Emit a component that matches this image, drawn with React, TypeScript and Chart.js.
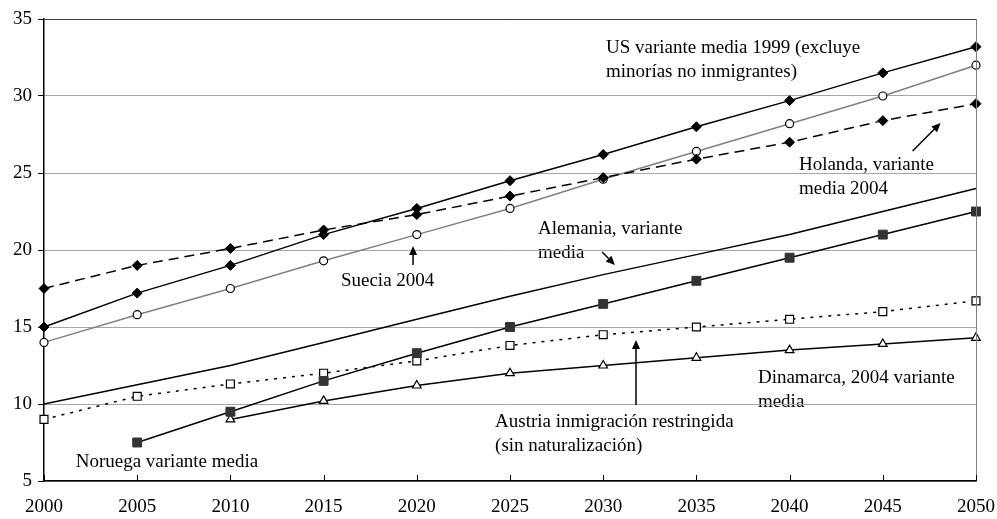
import React, { useEffect, useRef } from 'react';
import { Chart, registerables } from 'chart.js';

Chart.register(...registerables);

const years = ['2000', '2005', '2010', '2015', '2020', '2025', '2030', '2035', '2040', '2045', '2050'];
const usValues = [15, 17.2, 19, 21, 22.7, 24.5, 26.2, 28, 29.7, 31.5, 33.2];
const holandaValues = [17.5, 19, 20.1, 21.3, 22.3, 23.5, 24.7, 25.9, 27, 28.4, 29.5];
const sueciaValues = [14, 15.8, 17.5, 19.3, 21, 22.7, 24.6, 26.4, 28.2, 30, 32];
const alemaniaValues = [10, 11.25, 12.5, 14, 15.5, 17, 18.4, 19.7, 21, 22.5, 24];
const noruegaValues = [null, 7.5, 9.5, 11.5, 13.3, 15, 16.5, 18, 19.5, 21, 22.5];
const austriaValues = [9, 10.5, 11.3, 12, 12.8, 13.8, 14.5, 15, 15.5, 16, 16.7];
const dinamarcaValues = [null, null, 9, 10.2, 11.2, 12, 12.5, 13, 13.5, 13.9, 14.3];

const yMin = 5;
const yMax = 35;
const yStep = 5;

// Annotation texts, anchored in data space (year, value of first line centre)
const annotations = [
  { lines: ['US variante media 1999 (excluye', 'minorías no inmigrantes)'], year: 2030.15, value: 33.1 },
  { lines: ['Holanda, variante', 'media 2004'], year: 2040.5, value: 25.5 },
  { lines: ['Alemania, variante', 'media'], year: 2026.5, value: 21.36 },
  { lines: ['Suecia 2004'], year: 2015.93, value: 18.0 },
  { lines: ['Austria inmigración restringida', '(sin naturalización)'], year: 2024.2, value: 8.83 },
  { lines: ['Dinamarca, 2004 variante', 'media'], year: 2038.3, value: 11.69 },
  { lines: ['Noruega variante media'], year: 2001.7, value: 6.23 },
];

// Arrows: from (year, value) tail to tip
const arrows = [
  { from: [2046.6, 26.43], to: [2048.1, 28.25] },
  { from: [2029.94, 19.87], to: [2030.63, 19.03] },
  { from: [2019.8, 19.03], to: [2019.8, 20.26] },
  { from: [2031.76, 9.94], to: [2031.76, 14.16] },
];

const FONT = '"Liberation Serif", "Times New Roman", serif';
const FONT_SIZE = 19;
const LINE_GAP = 24;

const overlayPlugin = {
  id: 'overlay',
  beforeDraw(chart: any) {
    const { ctx } = chart;
    const xs = chart.scales.x;
    const ys = chart.scales.y;
    if (!xs || !ys) return;
    ctx.save();
    ctx.fillStyle = '#000';
    ctx.font = `${FONT_SIZE}px ${FONT}`;
    ctx.textBaseline = 'middle';
    ctx.textAlign = 'left';
    annotations.forEach((a) => {
      const px = xs.getPixelForValue((a.year - 2000) / 5);
      const py = ys.getPixelForValue(a.value);
      a.lines.forEach((t, i) => ctx.fillText(t, px, py + i * LINE_GAP));
    });
    ctx.restore();
  },
  afterDatasetsDraw(chart: any) {
    const { ctx, chartArea } = chart;
    const xs = chart.scales.x;
    const ys = chart.scales.y;
    ctx.save();
    // right border
    ctx.strokeStyle = '#808080';
    ctx.lineWidth = 1;
    ctx.beginPath();
    ctx.moveTo(Math.round(chartArea.right) + 0.5, chartArea.top);
    ctx.lineTo(Math.round(chartArea.right) + 0.5, chartArea.bottom);
    ctx.stroke();
    // x tick marks (inside)
    ctx.strokeStyle = '#000';
    years.forEach((_, i) => {
      const px = Math.round(xs.getPixelForValue(i)) + 0.5;
      ctx.beginPath();
      ctx.moveTo(px, chartArea.bottom);
      ctx.lineTo(px, chartArea.bottom - 6);
      ctx.stroke();
    });
    // arrows
    ctx.fillStyle = '#000';
    ctx.lineWidth = 1.5;
    arrows.forEach((a) => {
      const x1 = xs.getPixelForValue((a.from[0] - 2000) / 5);
      const y1 = ys.getPixelForValue(a.from[1]);
      const x2 = xs.getPixelForValue((a.to[0] - 2000) / 5);
      const y2 = ys.getPixelForValue(a.to[1]);
      const ang = Math.atan2(y2 - y1, x2 - x1);
      const hl = 9;
      const hw = 4;
      const bx = x2 - hl * Math.cos(ang);
      const by = y2 - hl * Math.sin(ang);
      ctx.beginPath();
      ctx.moveTo(x1, y1);
      ctx.lineTo(bx, by);
      ctx.stroke();
      ctx.beginPath();
      ctx.moveTo(x2, y2);
      ctx.lineTo(bx + hw * Math.sin(ang), by - hw * Math.cos(ang));
      ctx.lineTo(bx - hw * Math.sin(ang), by + hw * Math.cos(ang));
      ctx.closePath();
      ctx.fill();
    });
    ctx.restore();
  },
};

export default function App() {
  const canvasRef = useRef<HTMLCanvasElement | null>(null);

  useEffect(() => {
    document.body.style.margin = '0';
    const canvas = canvasRef.current;
    if (!canvas) return;
    const chart = new Chart(canvas, {
      type: 'line',
      data: {
        labels: years,
        datasets: [
          {
            label: 'US variante media 1999',
            data: usValues,
            borderColor: '#000',
            borderWidth: 1.5,
            pointStyle: 'rectRot',
            pointRadius: 5,
            pointBackgroundColor: '#000',
            pointBorderColor: '#000',
            pointBorderWidth: 1,
          },
          {
            label: 'Holanda, variante media 2004',
            data: holandaValues,
            borderColor: '#000',
            borderWidth: 1.5,
            borderDash: [10, 6],
            pointStyle: 'rectRot',
            pointRadius: 5,
            pointBackgroundColor: '#000',
            pointBorderColor: '#000',
            pointBorderWidth: 1,
          },
          {
            label: 'Suecia 2004',
            data: sueciaValues,
            borderColor: '#808080',
            borderWidth: 1.5,
            pointStyle: 'circle',
            pointRadius: 4,
            pointBackgroundColor: '#fff',
            pointBorderColor: '#000',
            pointBorderWidth: 1.2,
          },
          {
            label: 'Alemania, variante media',
            data: alemaniaValues,
            borderColor: '#000',
            borderWidth: 1.5,
            pointRadius: 0,
          },
          {
            label: 'Noruega variante media',
            data: noruegaValues,
            borderColor: '#000',
            borderWidth: 1.5,
            pointStyle: 'rect',
            pointRadius: 6.3,
            pointBackgroundColor: '#333',
            pointBorderColor: '#333',
            pointBorderWidth: 1,
          },
          {
            label: 'Austria inmigración restringida',
            data: austriaValues,
            borderColor: '#000',
            borderWidth: 1.5,
            borderDash: [3, 6],
            pointStyle: 'rect',
            pointRadius: 5.6,
            pointBackgroundColor: '#fff',
            pointBorderColor: '#000',
            pointBorderWidth: 1.2,
          },
          {
            label: 'Dinamarca, 2004 variante media',
            data: dinamarcaValues,
            borderColor: '#000',
            borderWidth: 1.5,
            pointStyle: 'triangle',
            pointRadius: 5,
            pointBackgroundColor: '#fff',
            pointBorderColor: '#000',
            pointBorderWidth: 1.2,
          },
        ],
      },
      options: {
        animation: false,
        responsive: true,
        maintainAspectRatio: false,
        layout: { padding: { top: 19, right: 21, left: 0, bottom: 0 } },
        plugins: {
          legend: { display: false },
          tooltip: { enabled: false },
        },
        elements: { line: { tension: 0 } },
        scales: {
          x: {
            type: 'category',
            offset: false,
            grid: { display: false },
            border: { display: true, color: '#000', width: 1.5 },
            ticks: {
              color: '#000',
              font: { family: FONT, size: FONT_SIZE },
              padding: 7,
              maxRotation: 0,
              autoSkip: false,
            },
            afterFit: (scale: any) => {
              scale.height = 38;
              scale.paddingRight = 0;
              scale.paddingLeft = 0;
            },
          },
          y: {
            min: yMin,
            max: yMax,
            ticks: {
              stepSize: yStep,
              color: '#000',
              font: { family: FONT, size: FONT_SIZE },
              padding: 6,
            },
            grid: {
              color: (c: any) => (c.tick && c.tick.value === yMax ? '#404040' : '#a6a6a6'),
              tickColor: '#000',
              tickLength: 6,
              lineWidth: 1,
            },
            border: { display: true, color: '#000', width: 1.5 },
            afterFit: (scale: any) => {
              scale.width = 44;
            },
          },
        },
      },
      plugins: [overlayPlugin],
    });
    return () => chart.destroy();
  }, []);

  return (
    <div style={{ width: 997, height: 519, position: 'relative' }}>
      <canvas ref={canvasRef} />
    </div>
  );
}
